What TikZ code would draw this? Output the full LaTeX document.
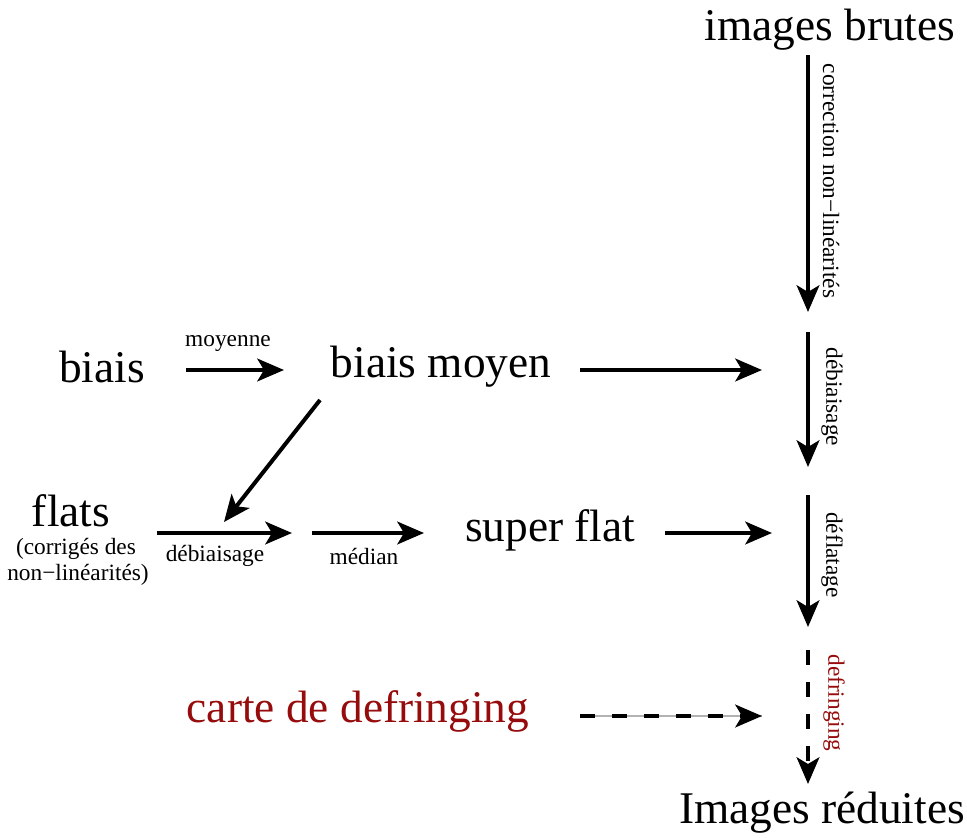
\documentclass[tikz,border=0pt]{standalone}
\usepackage{fontspec}
\setmainfont{Liberation Serif}
\usetikzlibrary{arrows.meta}
\definecolor{dred}{RGB}{150,12,12}
\tikzset{
  big/.style={inner sep=0pt, font=\fontsize{34}{40}\selectfont},
  small/.style={inner sep=0pt, font=\fontsize{17.5}{21}\selectfont},
  arr/.style={line width=3pt, -{Stealth[length=20pt,width=17pt,inset=5pt]}},
  darr/.style={line width=3pt, dash pattern=on 11.5pt off 12.5pt, -{Stealth[length=20pt,width=17pt,inset=5pt]}},
  under/.style={line width=0.8pt, gray!60},
}
\begin{document}
\begin{tikzpicture}[x=0.75pt,y=-0.75pt]
\useasboundingbox (0,0) rectangle (967,838);
% main nodes
\node[big] (brutes) at (830,30) {images brutes};
\node[big] (reduites) at (822,813) {Images réduites};
\node[big] (biais) at (102,367) {biais};
\node[big] (bmoyen) at (441,367) {biais moyen};
\node[big] (flats) at (71,511) {flats};
\node[small] (flatsA) at (76,549) {(corrigés des};
\node[small] (flatsB) at (78,575) {non−linéarités)};
\node[big] (sflat) at (550,530) {super flat};
\node[big, text=dred] (carte) at (358,711) {carte de defringing};
% coordinates for arrow ends
\coordinate (v1a) at (808,55);  \coordinate (v1b) at (808,312);
\coordinate (v2a) at (808,332); \coordinate (v2b) at (808,467);
\coordinate (v3a) at (808,495); \coordinate (v3b) at (808,627);
\coordinate (v4a) at (808,650); \coordinate (v4b) at (808,784);
\coordinate (h1a) at (186,370); \coordinate (h1b) at (284,370);
\coordinate (h2a) at (580,370); \coordinate (h2b) at (762,370);
\coordinate (d1a) at (320,400); \coordinate (d1b) at (224,522);
\coordinate (h3a) at (157,533); \coordinate (h3b) at (292,533);
\coordinate (h4a) at (312,533); \coordinate (h4b) at (424,533);
\coordinate (h5a) at (665,533); \coordinate (h5b) at (772,533);
\coordinate (h6a) at (580,716); \coordinate (h6b) at (762,716);
% arrows
\draw[arr] (v1a) -- (v1b);
\draw[arr] (v2a) -- (v2b);
\draw[arr] (v3a) -- (v3b);
\draw[darr] (v4a) -- (v4b);
\draw[arr] (h1a) -- (h1b);
\draw[arr] (h2a) -- (h2b);
\draw[arr] (d1a) -- (d1b);
\draw[arr] (h3a) -- (h3b);
\draw[arr] (h4a) -- (h4b);
\draw[arr] (h5a) -- (h5b);
\draw[under] (h6a) -- (h6b);
\draw[darr] (h6a) -- (h6b);
% labels
\node[small, rotate=-90] (l1) at (831,181) {correction non−linéarités};
\node[small, rotate=-90] (l2) at (832,397) {débiaisage};
\node[small, rotate=-90] (l3) at (832,555) {déflatage};
\node[small, rotate=-90, text=dred] (l4) at (834,703) {defringing};
\node[small] (lmoy) at (228,344) {moyenne};
\node[small] (ldeb) at (215,556) {débiaisage};
\node[small] (lmed) at (364,556) {médian};
\end{tikzpicture}
\end{document}
